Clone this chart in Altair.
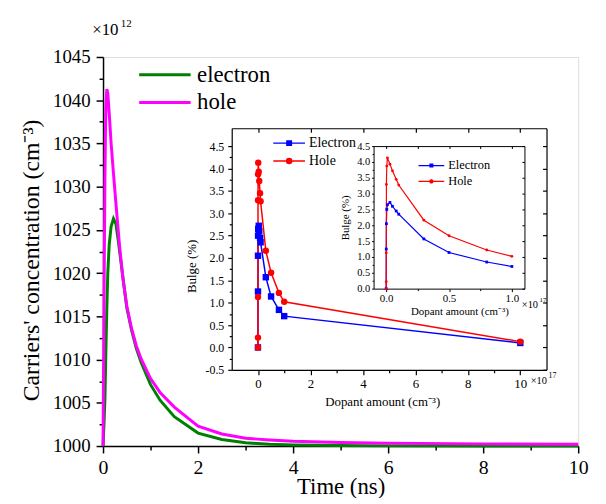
import altair as alt
import pandas as pd

SERIF = "Liberation Serif"

# ---------------- main chart data (Time in ns, concentration in 1e12 cm^-3)
t_electron = [0, 0.02, 0.04, 0.06, 0.08, 0.10, 0.13, 0.17, 0.22, 0.27, 0.32, 0.40, 0.50, 0.60,
              0.70, 0.80, 1.0, 1.2, 1.5, 2.0, 2.5, 3.0, 3.5, 4.0, 5.0, 6.0, 8.0, 10.0]
n_electron = [1000, 1002.5, 1005.5, 1011, 1016, 1020, 1023.3, 1025.4, 1026.3, 1025.7, 1023.8, 1020.3,
              1016.0, 1013.4, 1011.3, 1009.7, 1007.1, 1005.3, 1003.4, 1001.5, 1000.75, 1000.38,
              1000.2, 1000.12, 1000.05, 1000.02, 1000.0, 1000.0]
t_hole = [0, 0.01, 0.02, 0.03, 0.04, 0.05, 0.06, 0.08, 0.10, 0.13, 0.17, 0.22, 0.28, 0.35, 0.42,
          0.50, 0.60, 0.70, 0.80, 1.0, 1.2, 1.5, 2.0, 2.5, 3.0, 3.5, 4.0, 5.0, 6.0, 8.0, 10.0]
n_hole = [1000, 1008, 1016, 1024, 1031, 1036, 1039.3, 1041.3, 1040.8, 1038.5, 1035, 1031.5, 1027.5,
          1023, 1019.3, 1016.2, 1013.6, 1011.6, 1010.1, 1007.8, 1006.2, 1004.5, 1002.3, 1001.4,
          1000.9, 1000.7, 1000.55, 1000.4, 1000.32, 1000.25, 1000.2]

# ---------------- inset data (dopant amount in 1e17 cm^-3, bulge in %)
dop_electron = [0, 0.001, 0.002, 0.005, 0.01, 0.03, 0.05, 0.08, 0.1, 0.3, 0.5, 0.8, 1.0, 10]
bulge_electron = [0, 1.25, 2.05, 2.5, 2.65, 2.72, 2.6, 2.45, 2.35, 1.57, 1.14, 0.84, 0.70, 0.10]
dop_hole = [0, 0.0005, 0.001, 0.002, 0.005, 0.01, 0.03, 0.05, 0.08, 0.1, 0.3, 0.5, 0.8, 1.0, 10]
bulge_hole = [0, 0.22, 1.13, 3.29, 3.87, 4.13, 3.93, 3.72, 3.45, 3.27, 2.16, 1.67, 1.22, 1.02, 0.13]

main_names = ["electron", "hole"]
main_colors = ["#008000", "#ff00ff"]
inset_names = ["Electron", "Hole"]
inset_colors = ["#0000ff", "#ff0000"]

main_df = pd.concat([
    pd.DataFrame({"t": t_electron, "n": n_electron, "carrier": "electron"}),
    pd.DataFrame({"t": t_hole, "n": n_hole, "carrier": "hole"}),
])
inset_df = pd.concat([
    pd.DataFrame({"d": dop_electron, "b": bulge_electron, "s": "Electron", "i": range(len(dop_electron))}),
    pd.DataFrame({"d": dop_hole, "b": bulge_hole, "s": "Hole", "i": range(len(dop_hole))}),
])

W, H = 480, 393

# scales
MX = alt.Scale(domain=[0, 10], nice=False, zero=False)
MY = alt.Scale(domain=[1000, 1045], nice=False, zero=False)
OX = alt.Scale(domain=[-1, 11], range=[130, 448], nice=False, zero=False)
OY = alt.Scale(domain=[-0.5, 4.9], range=[316, 72], nice=False, zero=False)
IX = alt.Scale(domain=[-0.1, 1.1], range=[273.3, 425.7], nice=False, zero=False)
IY = alt.Scale(domain=[0, 4.5], range=[234, 90], nice=False, zero=False)

FMT1 = "replace(format(datum.value, '.1f'), '\u2212', '-')"


def axis(orient, values, labels=True, title=None, offset=0, tick=7, lsize=20, tsize=20,
         lpad=5, tpad=8, domain=True, width=1.5, **kw):
    d = dict(orient=orient, values=values, labels=labels, domain=domain, ticks=True,
             tickSize=tick, grid=False, offset=offset, domainColor="black", tickColor="black",
             domainWidth=width, tickWidth=width, labelFont=SERIF, labelFontSize=lsize,
             labelColor="black", labelPadding=lpad, labelFlush=False, labelOverlap=False,
             titleFont=SERIF, titleFontSize=tsize, titleColor="black", titleFontWeight="normal",
             titlePadding=tpad, title=title)
    d.update(kw)
    return alt.Axis(**d)


def axis_layer(xs, ys, xaxis, yaxis, x0, y0):
    return alt.Chart(pd.DataFrame({"x": [x0], "y": [y0]})).mark_point(opacity=0).encode(
        x=alt.X("x:Q", scale=xs, axis=xaxis),
        y=alt.Y("y:Q", scale=ys, axis=yaxis),
    )


def text(t, x, y, size, align="left"):
    return alt.Chart(pd.DataFrame({"t": [t]})).mark_text(
        font=SERIF, fontSize=size, align=align, baseline="alphabetic", color="black"
    ).encode(text="t:N", x=alt.value(x), y=alt.value(y))


# ---------------- main plot
main_lines = alt.Chart(main_df).mark_line(strokeWidth=3).encode(
    x=alt.X("t:Q", scale=MX, axis=axis("bottom", [0, 2, 4, 6, 8, 10], title="Time (ns)",
                                        lsize=20, tsize=23, titleY=48, titleBaseline="alphabetic",
                                        format="d")),
    y=alt.Y("n:Q", scale=MY, axis=axis("left", list(range(1000, 1046, 5)),
                                        title="Carriers' concentration (cm\u207b\u00b3)",
                                        lsize=19, tsize=24, lpad=6, tpad=9, titleY=205,
                                        format="d")),
    color=alt.Color("carrier:N", scale=alt.Scale(domain=main_names, range=main_colors),
                    legend=alt.Legend(orient="none", legendX=35, legendY=4, title=None,
                                      symbolType="stroke", symbolSize=2704, symbolStrokeWidth=3,
                                      labelFont=SERIF, labelFontSize=23, labelColor="black",
                                      labelOffset=5, padding=0, clipHeight=28, rowPadding=0)),
)

main_minor = axis_layer(
    MX, MY,
    axis("bottom", [1, 3, 5, 7, 9], labels=False, domain=False, tick=4),
    axis("left", [1002.5 + 5 * k for k in range(9)], labels=False, domain=False, tick=4),
    0, 1000)

# ---------------- outer inset
o_lines = alt.Chart(inset_df).mark_line(strokeWidth=1.5).encode(
    x=alt.X("d:Q", scale=OX, axis=None),
    y=alt.Y("b:Q", scale=OY, axis=None),
    color=alt.Color("s:N", scale=alt.Scale(domain=inset_names, range=inset_colors), legend=None),
    order="i:Q",
)
o_pts = alt.Chart(inset_df).mark_point(filled=True, opacity=1, size=42).encode(
    x=alt.X("d:Q", scale=OX, axis=None),
    y=alt.Y("b:Q", scale=OY, axis=None),
    color=alt.Color("s:N", scale=alt.Scale(domain=inset_names, range=inset_colors), legend=None),
    shape=alt.Shape("s:N", scale=alt.Scale(domain=inset_names, range=["square", "circle"]), legend=None),
)
o_axes = axis_layer(
    OX, OY,
    axis("bottom", [0, 2, 4, 6, 8, 10], title="Dopant amount (cm\u207b\u00b3)", offset=-77, tick=5,
         lsize=13, tsize=13, lpad=3, width=1.2, titleX=282, titleY=36, titleBaseline="alphabetic",
         format="d"),
    axis("left", [-0.5 + 0.5 * k for k in range(11)], title="Bulge (%)", offset=-130, tick=4,
         lsize=12, tsize=13, lpad=4, tpad=7, width=1.2, labelExpr=FMT1, titleY=211),
    0, 0)
o_minor = axis_layer(
    OX, OY,
    axis("bottom", [1, 3, 5, 7, 9], labels=False, domain=False, offset=-77, tick=3, width=1.2),
    axis("left", [-0.25 + 0.5 * k for k in range(10)], labels=False, domain=False, offset=-130,
         tick=2.5, width=1.2),
    0, 0)
o_frame = axis_layer(
    OX, OY,
    axis("bottom", [0, 2, 4, 6, 8, 10], labels=False, offset=-321, tick=4, width=1.2),
    axis("left", [-0.5 + 0.5 * k for k in range(11)], labels=False, offset=-448, tick=4, width=1.2),
    0, 0)

SQ = "M-1,0L1,0M-0.14,-0.14L0.14,-0.14L0.14,0.14L-0.14,0.14Z"
CI = "M-1,0L1,0M0.16,0A0.16,0.16,0,1,1,-0.16,0A0.16,0.16,0,1,1,0.16,0Z"


def legend_layer(lx, ly, size, fsize, clip, sq, ci, sw):
    L = alt.Legend(orient="none", legendX=lx, legendY=ly, title=None, symbolSize=size,
                   symbolStrokeWidth=sw, labelFont=SERIF, labelFontSize=fsize, labelColor="black",
                   labelOffset=3, padding=0, clipHeight=clip, rowPadding=0)
    cs = alt.Scale(domain=inset_names, range=inset_colors)
    return alt.Chart(pd.DataFrame({"s": inset_names})).mark_point(filled=True, opacity=1).encode(
        x=alt.value(-400), y=alt.value(-400),
        fill=alt.Fill("s:N", scale=cs, legend=L),
        stroke=alt.Stroke("s:N", scale=cs, legend=L),
        shape=alt.Shape("s:N", scale=alt.Scale(domain=inset_names, range=[sq, ci]), legend=L),
    )


o_legend = legend_layer(171, 78, 1024, 14, 18, SQ, CI, 1.5)

# ---------------- inner inset
i_lines = alt.Chart(inset_df).transform_filter(alt.datum.d <= 1.0).mark_line(strokeWidth=1.2).encode(
    x=alt.X("d:Q", scale=IX, axis=None),
    y=alt.Y("b:Q", scale=IY, axis=None),
    color=alt.Color("s:N", scale=alt.Scale(domain=inset_names, range=inset_colors), legend=None),
    order="i:Q",
)
i_pts = alt.Chart(inset_df).transform_filter(alt.datum.d <= 1.0).mark_point(
    filled=True, opacity=1, size=8).encode(
    x=alt.X("d:Q", scale=IX, axis=None),
    y=alt.Y("b:Q", scale=IY, axis=None),
    color=alt.Color("s:N", scale=alt.Scale(domain=inset_names, range=inset_colors), legend=None),
    shape=alt.Shape("s:N", scale=alt.Scale(domain=inset_names, range=["square", "circle"]), legend=None),
)
i_axes = axis_layer(
    IX, IY,
    axis("bottom", [0, 0.5, 1.0], title="Dopant amount (cm\u207b\u00b3)", offset=-159, tick=3,
         lsize=11, tsize=11, lpad=1, width=1, labelExpr=FMT1, titleX=360, titleY=26,
         titleBaseline="alphabetic"),
    axis("left", [0.5 * k for k in range(10)], title="Bulge (%)", offset=-273.3, tick=2,
         lsize=10.5, tsize=11, lpad=2, tpad=6, width=1, labelExpr=FMT1),
    0, 0)
i_minor = axis_layer(
    IX, IY,
    axis("bottom", [0.25, 0.75], labels=False, domain=False, offset=-159, tick=2, width=1),
    axis("left", [0.25 + 0.5 * k for k in range(9)], labels=False, domain=False, offset=-273.3,
         tick=1.5, width=1),
    0, 0)
i_frame = axis_layer(
    IX, IY,
    axis("bottom", [0, 0.25, 0.5, 0.75, 1.0], labels=False, offset=-303, tick=2.5, width=1),
    axis("left", [0.5 * k for k in range(10)], labels=False, offset=-425.7, tick=2.5, width=1),
    0, 0)

SQ2 = "M-1,0L1,0M-0.11,-0.11L0.11,-0.11L0.11,0.11L-0.11,0.11Z"
CI2 = "M-1,0L1,0M0.12,0A0.12,0.12,0,1,1,-0.12,0A0.12,0.12,0,1,1,0.12,0Z"
i_legend = legend_layer(317.7, 102, 676, 12.5, 15.3, SQ2, CI2, 1.2)

# ---------------- multiplier annotations
notes = [
    text("\u00d710", -11, -22, 17), text("12", 18, -30, 11),
    text("\u00d710", 432, 330, 10.5), text("17", 450, 324, 8),
    text("\u00d710", 423, 254, 10.5), text("17", 441, 248, 7),
]

chart = alt.layer(
    main_minor, main_lines,
    o_minor, o_frame, o_axes, o_lines, o_pts, o_legend,
    i_minor, i_frame, i_axes, i_lines, i_pts, i_legend,
    *notes,
).resolve_scale(
    x="independent", y="independent", color="independent", fill="independent",
    stroke="independent", shape="independent",
).properties(
    width=W, height=H,
    autosize=alt.AutoSizeParams(type="none"),
    padding={"left": 96, "top": 47, "right": 20, "bottom": 50},
).configure_view(stroke="black", strokeWidth=1.5).configure(background="white")

chart.save("out.html", embed_options={"renderer": "svg", "actions": False})
